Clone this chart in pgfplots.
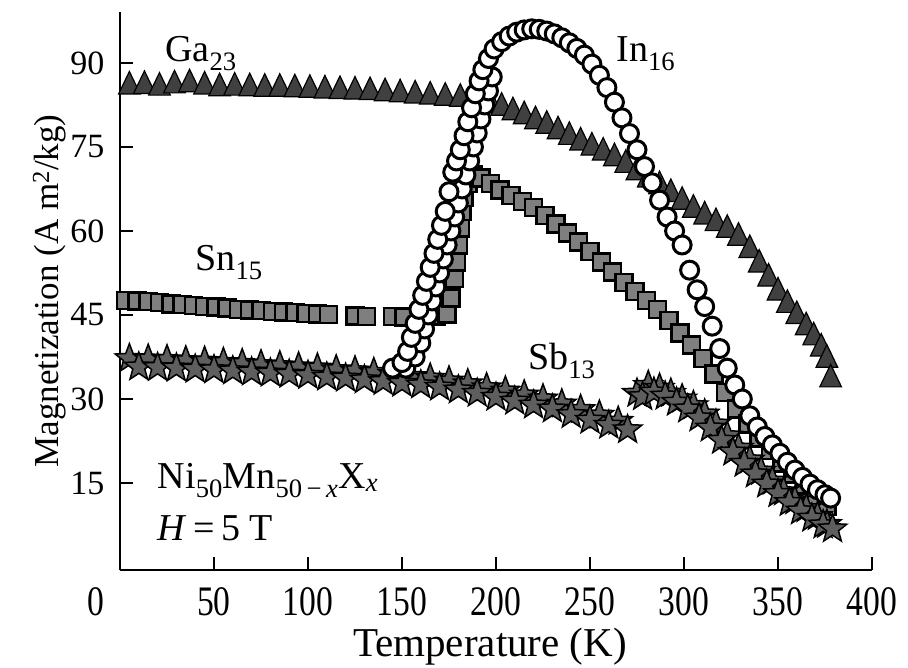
\documentclass[border=0pt]{standalone}
\usepackage{fontspec}
\setmainfont{Liberation Serif}
\newfontfamily\narrowserif[FakeStretch=0.8]{Liberation Serif}
\usepackage{pgfplots}
\pgfplotsset{compat=1.18}

% filled five-pointed star mark
\pgfdeclareplotmark{fstar}{%
  \pgfpathmoveto{\pgfqpoint{0pt}{\pgfplotmarksize}}%
  \pgfpathlineto{\pgfqpoint{-0.2469\pgfplotmarksize}{0.3398\pgfplotmarksize}}%
  \pgfpathlineto{\pgfqpoint{-0.9511\pgfplotmarksize}{0.3090\pgfplotmarksize}}%
  \pgfpathlineto{\pgfqpoint{-0.3995\pgfplotmarksize}{-0.1298\pgfplotmarksize}}%
  \pgfpathlineto{\pgfqpoint{-0.5878\pgfplotmarksize}{-0.8090\pgfplotmarksize}}%
  \pgfpathlineto{\pgfqpoint{0pt}{-0.42\pgfplotmarksize}}%
  \pgfpathlineto{\pgfqpoint{0.5878\pgfplotmarksize}{-0.8090\pgfplotmarksize}}%
  \pgfpathlineto{\pgfqpoint{0.3995\pgfplotmarksize}{-0.1298\pgfplotmarksize}}%
  \pgfpathlineto{\pgfqpoint{0.9511\pgfplotmarksize}{0.3090\pgfplotmarksize}}%
  \pgfpathlineto{\pgfqpoint{0.2469\pgfplotmarksize}{0.3398\pgfplotmarksize}}%
  \pgfpathclose
  \pgfusepathqfillstroke
}

\definecolor{gafill}{HTML}{404040}
\definecolor{snfill}{HTML}{7F7F7F}
\definecolor{sbfill}{HTML}{5E5E5E}

\begin{document}
\begin{tikzpicture}
\useasboundingbox (-120pt,-97pt) rectangle (788pt,570pt);
\begin{axis}[
  scale only axis,
  width=752pt, height=558pt,
  xmin=0, xmax=400, ymin=-0.54, ymax=99.1,
  axis lines*=left,
  axis line style={line width=2.2pt},
  every tick/.style={line width=2pt, black},
  tick align=inside,
  major tick length=13pt,
  xtick={50,100,...,400},
  extra x ticks={0},
  extra x tick style={major tick length=0pt, tick label style={xshift=-24pt}},
  ytick={15,30,...,90},
  /pgf/number format/assume math mode=true,
  yticklabel style={font=\fontsize{34}{40}\selectfont, xshift=-12pt},
  xticklabel style={font=\narrowserif\fontsize{42}{48}\selectfont, yshift=-14pt},
  xlabel={Temperature (K)},
  ylabel={Magnetization (A m\textsuperscript{2}/kg)},
  xlabel style={font=\fontsize{41}{47}\selectfont, at={(axis description cs:0.5,0)},
    anchor=base, yshift=-86pt, xshift=-6pt},
  ylabel style={font=\fontsize{35}{41}\selectfont, yshift=-2pt},
  clip=false,
]
% Ga23
\addplot[only marks, mark=triangle*, mark size=12.5pt,
  mark options={fill=gafill, draw=black, line width=1.2pt, yscale=1.2}]
coordinates {
(5,85.8)(13,85.9)(21,85.6)(29,86.0)(37,86.2)(45,85.8)(53,85.5)(61,85.6)
(69,85.5)(77,85.4)(85,85.4)(93,85.3)(101,85.2)(109,85.1)(117,85.0)(125,84.9)
(133,84.8)(141,84.6)(149,84.4)(157,84.2)(165,84.0)(173,83.8)(181,83.6)(189,83.3)
(197,82.6)(203,82.0)(209,81.2)(215,80.5)(221,79.6)(227,78.8)(233,77.8)(239,76.8)
(245,75.8)(251,74.9)(257,74.0)(263,73.0)(269,71.8)(275,70.5)(281,69.2)(287,68.0)
(293,66.6)(299,65.2)(305,63.8)(311,62.6)(317,61.4)(323,60.2)(329,58.8)(335,56.6)
(340,54.0)(345,51.5)(350,49.0)(355,46.8)(360,44.8)(365,42.8)(369,41.0)(373,39.0)
(376,37.0)(378,33.5)
};
% Sn15
\addplot[only marks, mark=square*, mark size=8.5pt,
  mark options={fill=snfill, draw=black, line width=2.5pt}]
coordinates {
(3,47.6)(9,47.5)(15,47.4)(21,47.2)(27,47.0)(33,46.9)(39,46.7)(45,46.5)
(51,46.4)(57,46.2)(63,46.0)(69,45.9)(75,45.8)(81,45.6)(87,45.5)(93,45.4)
(99,45.3)(105,45.2)(111,45.1)(125,44.8)(131,44.7)(145,44.7)(151,44.6)
(168,44.8)(174,45.2)(176,48.0)(178,51.5)(179,54.5)(180,57.5)(181,60.5)
(182,63.5)(183,66.0)(185,68.5)(188,70.0)(192,69.5)(197,68.5)(202,67.3)
(208,66.3)(214,65.3)(220,64.2)(226,62.8)(232,61.2)(238,59.6)(244,58.0)
(250,56.3)(256,54.5)(262,52.7)(268,50.8)(274,49.2)(280,47.6)(286,46.0)
(292,44.0)(298,41.8)(304,39.6)(310,37.2)(316,34.5)(322,31.2)(328,28.2)
(334,25.5)(340,23.0)(346,20.8)(352,18.6)(358,16.6)(364,14.6)(370,12.6)(376,10.8)
};
% Sb13
\addplot[only marks, mark=fstar, mark size=15pt,
  mark options={fill=sbfill, draw=black, line width=1.5pt}]
coordinates {
(5,37.2)(15,37.1)(25,37.0)(35,36.8)(45,36.7)(55,36.5)(65,36.3)(75,36.1)
(85,35.9)(95,35.7)(105,35.5)(115,35.2)(125,35.0)(135,34.7)(145,34.4)(155,34.0)
(165,33.7)(175,33.2)(185,32.7)(195,32.0)(205,31.4)(215,30.7)(225,30.0)(235,29.1)
(245,28.1)(255,27.1)(265,26.0)
(10,35.7)(20,35.6)(30,35.5)(40,35.3)(50,35.2)(60,35.0)(70,34.8)(80,34.6)
(90,34.4)(100,34.2)(110,33.9)(120,33.7)(130,33.4)(140,33.1)(150,32.8)(160,32.5)
(170,32.1)(180,31.6)(190,31.0)(200,30.3)(210,29.6)(220,28.9)(230,28.2)(240,27.2)
(250,26.2)(260,25.3)(270,24.5)
(275,31.0)(281,32.4)(287,31.9)(293,31.0)(299,30.0)(305,28.8)(311,27.3)(317,25.5)
(323,23.4)(329,21.2)(335,19.1)(341,17.1)(347,15.3)(353,13.4)(359,11.8)(365,10.4)
(371,9.0)(376,7.6)
(278,30.4)(284,31.2)(290,30.5)(296,29.4)(302,28.2)(308,26.6)(314,24.8)(320,22.6)
(326,20.5)(332,18.5)(338,16.6)(344,14.8)(350,13.1)(356,11.5)(362,10.0)(368,8.7)
(374,7.5)(379,6.8)
};
% In16
\addplot[only marks, mark=*, mark size=9pt,
  mark options={fill=white, draw=black, line width=3pt}]
coordinates {
(152,35.5)(157,37.5)(160,40)(162,42.5)(164,45)(166,47.5)(168,50)(170,52.5)
(172,55)(174,57.5)(176,60)(178,62.5)(180,65)(182,67.5)(184,70)(186,72.5)
(188,75)(190,77.5)(192,80)(194,82.5)(196,85)(198,87.5)
(145,35.5)(150,36.5)(153,38.5)(155,41)(157,43.5)(159,46)(161,48.5)(163,51)
(165,53.5)(167,56)(169,58.5)(171,61)(173,63.5)(175,67)(177,70.5)(179,72.5)
(181,74.5)(183,77)(185,79.5)(187,82)(189,84.5)(191,86.8)(193,88.8)(196,90.8)
(199,92.5)(203,93.8)(207,94.8)(211,95.5)(215,95.9)(219,96.1)(223,96.0)(227,95.7)
(231,95.2)(235,94.5)(239,93.6)(243,92.6)(247,91.4)(251,89.8)(255,87.8)(259,85.6)
(263,83.0)(267,80.2)(271,77.4)(275,74.5)(279,71.5)(283,68.6)(287,65.5)(291,62.5)
(295,60.0)(299,57.5)(303,53.0)(307,49.5)(311,46.5)(315,43.0)(319,39.0)(323,35.5)
(327,32.5)(331,30.0)(335,27.0)(339,25.0)(343,23.3)(347,21.8)(351,20.3)(355,18.7)
(359,17.3)(363,16.0)(367,14.8)(371,13.8)(375,12.9)(378,12.3)
};
% annotations
\begin{scope}[every node/.style={font=\fontsize{38}{44}\selectfont, inner sep=0pt}]
\node[anchor=base west] at (axis cs:24,90.2) {Ga\textsubscript{23}};
\node[anchor=base west] at (axis cs:40,53.0) {Sn\textsubscript{15}};
\node[anchor=base west] at (axis cs:264,90.2) {In\textsubscript{16}};
\node[anchor=base west] at (axis cs:217,35.2) {Sb\textsubscript{13}};
\node[anchor=base west] at (axis cs:20,14.1) {Ni\textsubscript{50}Mn\textsubscript{50\,−\,\textit{x}}X\textsubscript{\textit{x}}};
\node[anchor=base west] at (axis cs:20,4.8) {\textit{H}\,=\,5 T};
\end{scope}
\end{axis}
\end{tikzpicture}
\end{document}
